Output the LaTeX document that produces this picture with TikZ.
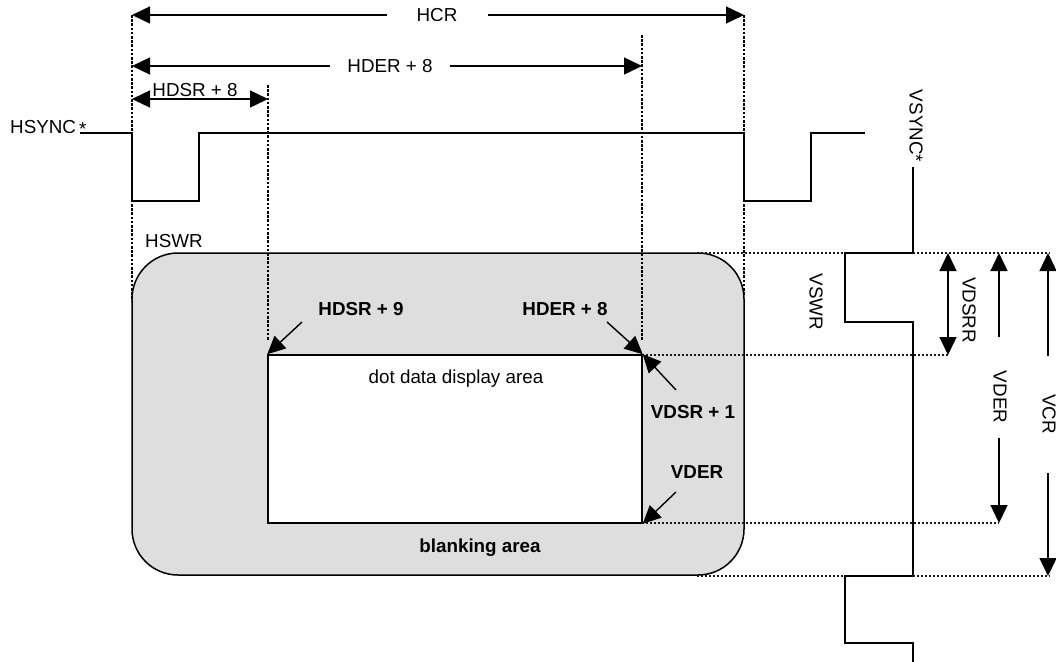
\documentclass[tikz,border=0pt]{standalone}
\usepackage{fontspec}
\setmainfont{Liberation Sans}
\usetikzlibrary{arrows.meta}
\begin{document}
\begin{tikzpicture}[x=1pt,y=-1pt,
  wire/.style={line width=1.5pt,line join=miter},
  guide/.style={line width=2.4pt,dash pattern=on 2.6pt off 1.6pt},
  hguide/.style={line width=1.8pt,dash pattern=on 2.2pt off 1.8pt,black!90},
  dim/.style={line width=1.4pt},
  tip/.style={-{Triangle[length=18pt,width=17pt]}},
  both/.style={{Triangle[length=18pt,width=17pt]}-{Triangle[length=18pt,width=17pt]}},
  lbl/.style={font=\fontsize{18.8}{22}\selectfont,inner sep=0pt},
  blbl/.style={font=\fontsize{18.8}{22}\selectfont\bfseries,inner sep=0pt}]
\useasboundingbox (0,0) rectangle (1056,661);
% blanking area
\node[draw,line width=1.5pt,fill=black!13,rounded corners=46pt,minimum width=612pt,minimum height=322pt,inner sep=0pt] (blank) at (438,414) {};
\node[draw,line width=1.5pt,fill=white,minimum width=374pt,minimum height=168pt,inner sep=0pt] (disp) at (455,439) {};
% coordinates
\coordinate (a1) at (132,15);  \coordinate (a2) at (744,15);
\coordinate (b1) at (132,66);  \coordinate (b2) at (642,66);
\coordinate (c1) at (132,99);  \coordinate (c2) at (268,99);
% vertical guides
\draw[guide] (132,15) -- (132,302);
\draw[guide] (744,15) -- (744,296);
\draw[guide] (268,85) -- (268,340);
\draw[guide] (642,35) -- (642,340);
% horizontal guides
\draw[hguide] (697,253) -- (1050,253);
\draw[hguide] (642,355) -- (948,355);
\draw[hguide] (642,523) -- (999,523);
\draw[hguide] (697,576) -- (1050,576);
% HCR
\node[lbl] (hcr) at (437,15) {HCR};
\draw[dim,tip] (387,15) -- (a1);
\draw[dim,tip] (488,15) -- (a2);
% HDER+8
\node[lbl] (hder) at (390,66) {HDER + 8};
\draw[dim,tip] (330,66) -- (b1);
\draw[dim,tip] (450,66) -- (b2);
% HDSR+8
\node[lbl] (hdsr) at (195,90) {HDSR + 8};
\draw[dim,both] (c1) -- (c2);
% HSYNC
\node[lbl,anchor=west] (hsync) at (10,128) {HSYNC\,\raisebox{-0.1em}{*}};
\draw[wire] (80,133) -- (132,133) -- (132,201) -- (199,201) -- (199,133) -- (744,133) -- (744,201) -- (811,201) -- (811,133) -- (865,133);
\node[lbl,anchor=west] (hswr) at (145,241) {HSWR};
% VSYNC
\node[lbl,rotate=-90] (vsync) at (916,126) {VSYNC*};
\draw[wire] (913,167) -- (913,253) -- (845,253) -- (845,322) -- (913,322) -- (913,576) -- (845,576) -- (845,643) -- (913,643) -- (913,665);
\node[lbl,rotate=-90] (vswr) at (816,302) {VSWR};
% inner labels
\node[lbl] (dot) at (456,379) {dot data display area};
\node[blbl] (bl) at (480,548) {blanking area};
\node[blbl] (h9) at (361,309) {HDSR + 9};
\node[blbl] (h8) at (565,309) {HDER + 8};
\node[blbl] (v1) at (693,412) {VDSR + 1};
\node[blbl] (vd) at (697,472) {VDER};
\draw[dim,tip] (302,322) -- (disp.north west);
\draw[dim,tip] (607,322) -- (disp.north east);
\draw[dim,tip] (676,390) -- (disp.north east);
\draw[dim,tip] (676,492) -- (disp.south east);
% vertical dims
\coordinate (d1) at (948,253); \coordinate (d2) at (948,355);
\draw[dim,both] (d1) -- (d2);
\node[lbl,rotate=-90] (vdsrr) at (969,310) {VDSRR};
\coordinate (e1) at (999,253); \coordinate (e2) at (999,523);
\node[lbl,rotate=-90] (vder) at (1000,397) {VDER};
\draw[dim,tip] (999,337) -- (e1);
\draw[dim,tip] (999,438) -- (e2);
\coordinate (f1) at (1048,253); \coordinate (f2) at (1048,576);
\node[lbl,rotate=-90] (vcr) at (1049,414) {VCR};
\draw[dim,tip] (1048,356) -- (f1);
\draw[dim,tip] (1048,473) -- (f2);
\end{tikzpicture}
\end{document}
